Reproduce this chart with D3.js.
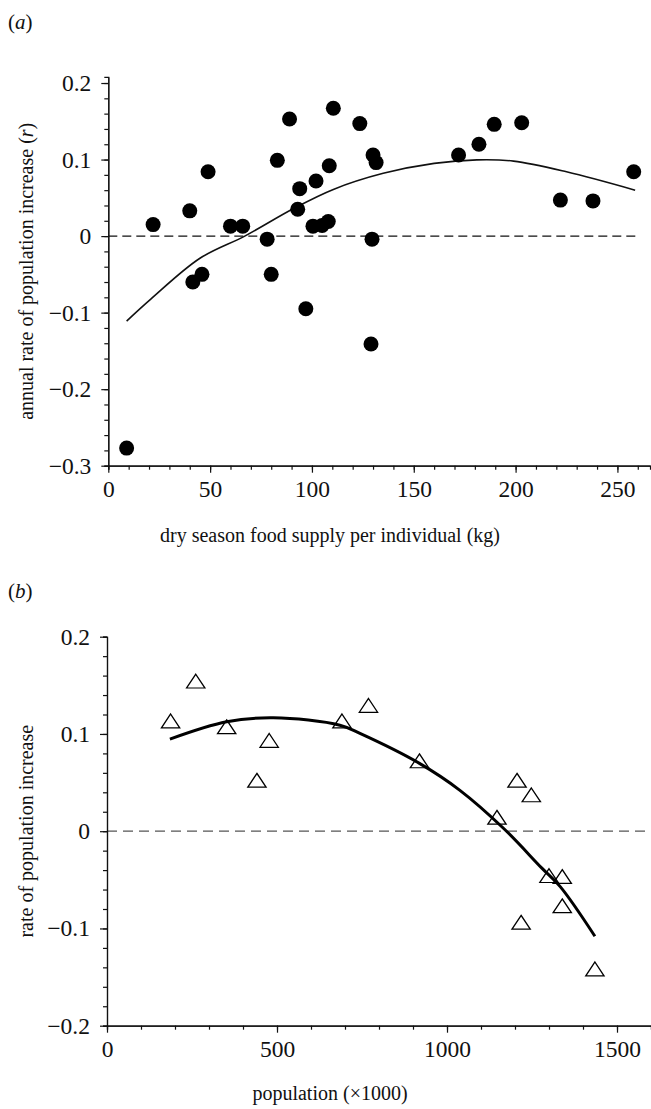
<!DOCTYPE html>
<html>
<head>
<meta charset="utf-8">
<script src="https://cdn.jsdelivr.net/npm/d3@7"></script>
<style>
  body { margin: 0; background: #fff; }
  svg { display: block; }
  svg text { font-family: "Liberation Serif", "Times New Roman", "DejaVu Serif", serif !important; fill: #111; }
  .axis path, .axis line { stroke: #111; stroke-width: 1.2; }
  .axis text { font-size: 23.5px; }
</style>
</head>
<body>
<script>
// panel (a): dry season food supply (kg) vs annual rate of increase r
const foodX = [9, 22, 40, 41.5, 46, 49, 60, 66, 78, 80, 83, 89, 93, 94, 97, 100.5, 102, 105, 108, 108.5,
  110.5, 123.5, 129, 129.5, 130, 131.5, 172, 182, 189.5, 203, 222, 238, 258];
const foodR = [-0.277, 0.015, 0.033, -0.060, -0.050, 0.084, 0.013, 0.013, -0.004, -0.050, 0.099, 0.153, 0.035, 0.062, -0.095, 0.013, 0.072, 0.014, 0.019, 0.092,
  0.167, 0.147, -0.141, -0.004, 0.106, 0.096, 0.106, 0.120, 0.146, 0.148, 0.047, 0.046, 0.084];
// fitted line
const fitAX = [9, 21, 45, 67, 91, 110.5, 135, 160, 181, 199, 225, 258.7];
const fitAY = [-0.111, -0.082, -0.029, 0, 0.036, 0.061, 0.082, 0.095, 0.0996, 0.098, 0.084, 0.060];

// panel (b): population (x1000) vs rate of increase
const popX = [187, 261, 352, 441, 477, 691, 769, 919, 1147, 1206, 1248, 1300, 1339, 1339, 1218, 1435];
const popR = [0.111, 0.152, 0.105, 0.050, 0.091, 0.111, 0.127, 0.070, 0.012, 0.050, 0.035, -0.048, -0.049, -0.079, -0.096, -0.144];
const fitBX = [185, 352, 489, 685, 744, 919, 1038, 1166, 1279, 1333, 1435];
const fitBY = [0.0947, 0.1125, 0.1166, 0.109, 0.1005, 0.0697, 0.042, 0.003, -0.038, -0.057, -0.108];

// ticks
const aXTicks = [0, 50, 100, 150, 200, 250];
const aXMinor = d3.range(0, 261, 10);
const aYTicks = [-0.3, -0.2, -0.1, 0, 0.1, 0.2];
const aYMinor = d3.range(-0.3, 0.201, 0.02);
const bXTicks = [0, 500, 1000, 1500];
const bXMinor = d3.range(0, 1601, 100);
const bYTicks = [-0.2, -0.1, 0, 0.1, 0.2];
const bYMinor = d3.range(-0.2, 0.201, 0.02);

const W = 651, H = 1109;
const svg = d3.select('body').append('svg').attr('width', W).attr('height', H);

const fmtY = d => Math.abs(d) < 1e-9 ? '0' : d3.format('.1f')(d);

function drawAxes(x, y, xt, xm, yt, ym) {
  const [x0] = x.range();
  const [y0] = y.range();
  svg.append('g').attr('class', 'axis').attr('transform', `translate(0,${y0})`)
    .call(d3.axisBottom(x).tickValues(xm).tickSize(4).tickFormat(''))
    .call(g => g.selectAll('text').remove());
  svg.append('g').attr('class', 'axis').attr('transform', `translate(0,${y0})`)
    .call(d3.axisBottom(x).tickValues(xt).tickSize(7).tickSizeOuter(0).tickPadding(8).tickFormat(d3.format('d')));
  svg.append('g').attr('class', 'axis').attr('transform', `translate(${x0},0)`)
    .call(d3.axisLeft(y).tickValues(ym).tickSize(4).tickFormat(''));
  svg.append('g').attr('class', 'axis').attr('transform', `translate(${x0},0)`)
    .call(d3.axisLeft(y).tickValues(yt).tickSize(7).tickSizeOuter(0).tickPadding(10).tickFormat(fmtY));
  svg.selectAll('.axis').attr('font-family', null).attr('font-size', null);
}

// ---- panel (a)
const xa = d3.scaleLinear().domain([0, 266]).range([108.3, 650]);
const ya = d3.scaleLinear().domain([-0.3, 0.208]).range([465.7, 76.9]);

svg.append('text').attr('x', 8).attr('y', 29).style('font-size', '21px')
  .html('(<tspan font-style="italic">a</tspan>)');

svg.append('line')
  .attr('x1', xa(0)).attr('x2', 640).attr('y1', ya(0)).attr('y2', ya(0))
  .attr('stroke', '#111').attr('stroke-width', 1.2).attr('stroke-dasharray', '9,5');

drawAxes(xa, ya, aXTicks, aXMinor, aYTicks, aYMinor);

svg.append('path')
  .datum(d3.zip(fitAX, fitAY))
  .attr('d', d3.line().x(d => xa(d[0])).y(d => ya(d[1])).curve(d3.curveCatmullRom))
  .attr('fill', 'none').attr('stroke', '#111').attr('stroke-width', 1.6);

svg.append('g').selectAll('circle')
  .data(d3.zip(foodX, foodR))
  .join('circle')
  .attr('cx', d => xa(d[0])).attr('cy', d => ya(d[1])).attr('r', 7.5)
  .attr('fill', '#000');

svg.append('text').attr('x', 330).attr('y', 542).attr('text-anchor', 'middle').style('font-size', '20px')
  .text('dry season food supply per individual (kg)');
svg.append('text').attr('transform', `translate(33,${(ya.range()[0] + ya.range()[1]) / 2}) rotate(-90)`)
  .attr('text-anchor', 'middle').style('font-size', '20px')
  .html('annual rate of population increase (<tspan font-style="italic">r</tspan>)');

// ---- panel (b)
const xb = d3.scaleLinear().domain([0, 1600]).range([107, 651]);
const yb = d3.scaleLinear().domain([-0.2, 0.2]).range([1025.7, 636.7]);

svg.append('text').attr('x', 8).attr('y', 598).style('font-size', '21px')
  .html('(<tspan font-style="italic">b</tspan>)');

svg.append('line')
  .attr('x1', xb(0)).attr('x2', W).attr('y1', yb(0)).attr('y2', yb(0))
  .attr('stroke', '#555').attr('stroke-width', 1.3).attr('stroke-dasharray', '10,6');

drawAxes(xb, yb, bXTicks, bXMinor, bYTicks, bYMinor);

svg.append('path')
  .datum(d3.zip(fitBX, fitBY))
  .attr('d', d3.line().x(d => xb(d[0])).y(d => yb(d[1])).curve(d3.curveCatmullRom))
  .attr('fill', 'none').attr('stroke', '#000').attr('stroke-width', 3);

const tri = d3.symbol().type(d3.symbolTriangle).size(110);
svg.append('g').selectAll('path')
  .data(d3.zip(popX, popR))
  .join('path')
  .attr('transform', d => `translate(${xb(d[0])},${yb(d[1])}) scale(1.15,1)`)
  .attr('d', tri)
  .attr('fill', 'none').attr('stroke', '#000').attr('stroke-width', 1.2);

svg.append('text').attr('x', 330).attr('y', 1100).attr('text-anchor', 'middle').style('font-size', '20px')
  .text('population (×1000)');
svg.append('text').attr('transform', `translate(33,${(yb.range()[0] + yb.range()[1]) / 2}) rotate(-90)`)
  .attr('text-anchor', 'middle').style('font-size', '20px')
  .text('rate of population increase');
</script>
</body>
</html>
